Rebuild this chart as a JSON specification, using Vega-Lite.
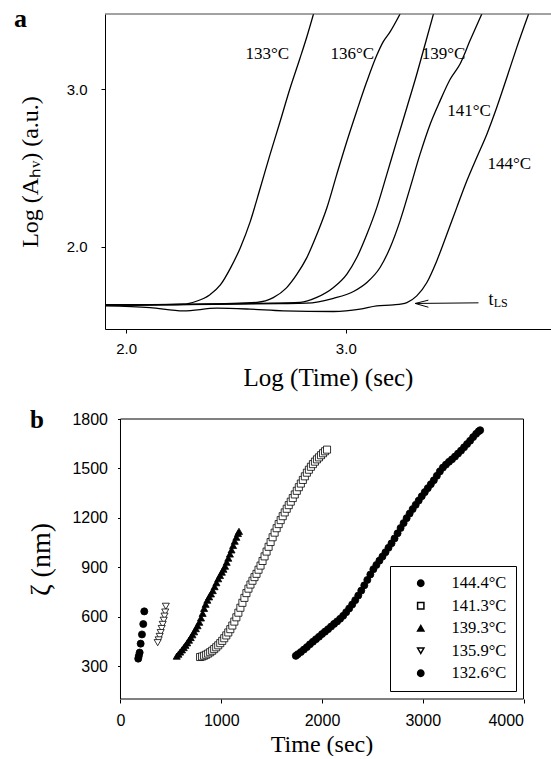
{
"$schema": "https://vega.github.io/schema/vega-lite/v6.json",
"background": "white",
"padding": {"left": 14, "top": 6, "right": 0, "bottom": 0},
"bounds": "flush",
"spacing": 90,
"resolve": {"legend": {"fill": "independent", "shape": "independent"}},
"config": {
  "view": {"stroke": null},
  "font": "Liberation Serif",
  "axis": {"grid": false, "domainColor": "black", "tickColor": "black", "labelColor": "black", "titleColor": "black", "labelFont": "Liberation Sans", "titleFont": "Liberation Serif", "titleFontWeight": "normal", "domainWidth": 1, "tickWidth": 1},
  "legend": {"labelFont": "Liberation Serif", "labelFontSize": 16.5, "labelColor": "black"}
},
"datasets": {
  "curves": [
    {"s":"133","lx":1.904,"ly":1.630},{"s":"133","lx":2.05,"ly":1.631},{"s":"133","lx":2.15,"ly":1.633},{"s":"133","lx":2.26,"ly":1.636},{"s":"133","lx":2.32,"ly":1.655},{"s":"133","lx":2.38,"ly":1.695},{"s":"133","lx":2.43,"ly":1.760},{"s":"133","lx":2.475,"ly":1.865},{"s":"133","lx":2.52,"ly":1.995},{"s":"133","lx":2.565,"ly":2.160},{"s":"133","lx":2.61,"ly":2.370},{"s":"133","lx":2.655,"ly":2.585},{"s":"133","lx":2.70,"ly":2.790},{"s":"133","lx":2.745,"ly":3.000},{"s":"133","lx":2.79,"ly":3.190},{"s":"133","lx":2.82,"ly":3.320},{"s":"133","lx":2.853,"ly":3.477},
    {"s":"136","lx":1.904,"ly":1.632},{"s":"136","lx":2.2,"ly":1.634},{"s":"136","lx":2.45,"ly":1.640},{"s":"136","lx":2.595,"ly":1.648},{"s":"136","lx":2.67,"ly":1.678},{"s":"136","lx":2.73,"ly":1.740},{"s":"136","lx":2.777,"ly":1.825},{"s":"136","lx":2.822,"ly":1.930},{"s":"136","lx":2.868,"ly":2.078},{"s":"136","lx":2.914,"ly":2.248},{"s":"136","lx":2.959,"ly":2.460},{"s":"136","lx":3.005,"ly":2.670},{"s":"136","lx":3.05,"ly":2.862},{"s":"136","lx":3.096,"ly":3.050},{"s":"136","lx":3.141,"ly":3.215},{"s":"136","lx":3.17,"ly":3.300},{"s":"136","lx":3.20,"ly":3.360},{"s":"136","lx":3.247,"ly":3.477},
    {"s":"139","lx":1.904,"ly":1.632},{"s":"139","lx":2.3,"ly":1.635},{"s":"139","lx":2.6,"ly":1.642},{"s":"139","lx":2.792,"ly":1.648},{"s":"139","lx":2.868,"ly":1.679},{"s":"139","lx":2.944,"ly":1.742},{"s":"139","lx":3.005,"ly":1.827},{"s":"139","lx":3.05,"ly":1.932},{"s":"139","lx":3.096,"ly":2.080},{"s":"139","lx":3.141,"ly":2.249},{"s":"139","lx":3.187,"ly":2.461},{"s":"139","lx":3.232,"ly":2.672},{"s":"139","lx":3.278,"ly":2.884},{"s":"139","lx":3.323,"ly":3.095},{"s":"139","lx":3.361,"ly":3.285},{"s":"139","lx":3.399,"ly":3.477},
    {"s":"141","lx":1.904,"ly":1.631},{"s":"141","lx":2.4,"ly":1.636},{"s":"141","lx":2.7,"ly":1.640},{"s":"141","lx":2.822,"ly":1.643},{"s":"141","lx":2.944,"ly":1.674},{"s":"141","lx":3.035,"ly":1.717},{"s":"141","lx":3.096,"ly":1.774},{"s":"141","lx":3.156,"ly":1.869},{"s":"141","lx":3.202,"ly":1.996},{"s":"141","lx":3.247,"ly":2.165},{"s":"141","lx":3.293,"ly":2.376},{"s":"141","lx":3.338,"ly":2.588},{"s":"141","lx":3.384,"ly":2.778},{"s":"141","lx":3.429,"ly":2.926},{"s":"141","lx":3.475,"ly":3.063},{"s":"141","lx":3.52,"ly":3.160},{"s":"141","lx":3.566,"ly":3.310},{"s":"141","lx":3.619,"ly":3.477},
    {"s":"144","lx":1.904,"ly":1.626},{"s":"144","lx":2.109,"ly":1.615},{"s":"144","lx":2.261,"ly":1.594},{"s":"144","lx":2.413,"ly":1.611},{"s":"144","lx":2.564,"ly":1.605},{"s":"144","lx":2.716,"ly":1.594},{"s":"144","lx":2.944,"ly":1.590},{"s":"144","lx":3.065,"ly":1.605},{"s":"144","lx":3.141,"ly":1.626},{"s":"144","lx":3.217,"ly":1.632},{"s":"144","lx":3.278,"ly":1.647},{"s":"144","lx":3.323,"ly":1.689},{"s":"144","lx":3.369,"ly":1.774},{"s":"144","lx":3.414,"ly":1.911},{"s":"144","lx":3.460,"ly":2.080},{"s":"144","lx":3.505,"ly":2.249},{"s":"144","lx":3.551,"ly":2.419},{"s":"144","lx":3.596,"ly":2.567},{"s":"144","lx":3.642,"ly":2.715},{"s":"144","lx":3.687,"ly":2.884},{"s":"144","lx":3.733,"ly":3.074},{"s":"144","lx":3.778,"ly":3.264},{"s":"144","lx":3.832,"ly":3.477}
  ],
  "labels": [
    {"label":"133°C","lx":2.643,"ly":3.222},{"label":"136°C","lx":3.030,"ly":3.222},{"label":"139°C","lx":3.445,"ly":3.222},{"label":"141°C","lx":3.561,"ly":2.863},{"label":"144°C","lx":3.744,"ly":2.524}
  ],
  "tmain": [{"label":"t","lx":3.650,"ly":1.632}],
  "tsub": [{"label":"LS","lx":3.673,"ly":1.619}],
  "panelA": [{"label":"a","lx":1.490,"ly":3.392}],
  "panelB": [{"label":"b","t":-898,"z":1745}],
  "arrow": [
    {"seg":"shaft","o":1,"lx":3.604,"ly":1.645},{"seg":"shaft","o":2,"lx":3.316,"ly":1.641},
    {"seg":"b1","o":1,"lx":3.376,"ly":1.662},{"seg":"b1","o":2,"lx":3.316,"ly":1.641},
    {"seg":"b2","o":1,"lx":3.376,"ly":1.617},{"seg":"b2","o":2,"lx":3.316,"ly":1.641}
  ],
  "zeta": [
    {"series":"132.6°C","t":236,"z":632},{"series":"132.6°C","t":226,"z":555},{"series":"132.6°C","t":213,"z":492},{"series":"132.6°C","t":200,"z":436},{"series":"132.6°C","t":190,"z":382},{"series":"132.6°C","t":182,"z":362},{"series":"132.6°C","t":176,"z":345},
    {"series":"135.9°C","t":450,"z":663},{"series":"135.9°C","t":444,"z":628},{"series":"135.9°C","t":437,"z":603},{"series":"135.9°C","t":429,"z":578},{"series":"135.9°C","t":419,"z":553},{"series":"135.9°C","t":409,"z":528},{"series":"135.9°C","t":399,"z":503},{"series":"135.9°C","t":389,"z":480},{"series":"135.9°C","t":379,"z":459},{"series":"135.9°C","t":369,"z":442},
    {"series":"139.3°C","t":558,"z":360},{"series":"139.3°C","t":575,"z":372},{"series":"139.3°C","t":592,"z":385},{"series":"139.3°C","t":610,"z":398},{"series":"139.3°C","t":628,"z":412},{"series":"139.3°C","t":645,"z":426},{"series":"139.3°C","t":662,"z":441},{"series":"139.3°C","t":680,"z":457},{"series":"139.3°C","t":697,"z":473},{"series":"139.3°C","t":714,"z":490},{"series":"139.3°C","t":731,"z":508},{"series":"139.3°C","t":748,"z":527},{"series":"139.3°C","t":765,"z":545},{"series":"139.3°C","t":782,"z":566},{"series":"139.3°C","t":799,"z":592},{"series":"139.3°C","t":815,"z":620},{"series":"139.3°C","t":830,"z":650},{"series":"139.3°C","t":845,"z":675},{"series":"139.3°C","t":862,"z":700},{"series":"139.3°C","t":880,"z":720},{"series":"139.3°C","t":898,"z":738},{"series":"139.3°C","t":916,"z":758},{"series":"139.3°C","t":934,"z":782},{"series":"139.3°C","t":952,"z":806},{"series":"139.3°C","t":970,"z":830},{"series":"139.3°C","t":988,"z":850},{"series":"139.3°C","t":1006,"z":870},{"series":"139.3°C","t":1022,"z":888},{"series":"139.3°C","t":1038,"z":906},{"series":"139.3°C","t":1054,"z":930},{"series":"139.3°C","t":1070,"z":955},{"series":"139.3°C","t":1086,"z":980},{"series":"139.3°C","t":1102,"z":1005},{"series":"139.3°C","t":1118,"z":1032},{"series":"139.3°C","t":1134,"z":1058},{"series":"139.3°C","t":1150,"z":1082},{"series":"139.3°C","t":1166,"z":1105},{"series":"139.3°C","t":1176,"z":1118},
    {"series":"141.3°C","t":790,"z":355},{"series":"141.3°C","t":810,"z":358},{"series":"141.3°C","t":830,"z":363},{"series":"141.3°C","t":850,"z":369},{"series":"141.3°C","t":870,"z":376},{"series":"141.3°C","t":890,"z":384},{"series":"141.3°C","t":910,"z":393},{"series":"141.3°C","t":930,"z":403},{"series":"141.3°C","t":950,"z":414},{"series":"141.3°C","t":970,"z":426},{"series":"141.3°C","t":990,"z":439},{"series":"141.3°C","t":1010,"z":453},{"series":"141.3°C","t":1030,"z":469},{"series":"141.3°C","t":1050,"z":486},{"series":"141.3°C","t":1070,"z":504},{"series":"141.3°C","t":1090,"z":524},{"series":"141.3°C","t":1110,"z":546},{"series":"141.3°C","t":1130,"z":570},{"series":"141.3°C","t":1150,"z":596},{"series":"141.3°C","t":1170,"z":624},{"series":"141.3°C","t":1190,"z":654},{"series":"141.3°C","t":1210,"z":684},{"series":"141.3°C","t":1230,"z":714},{"series":"141.3°C","t":1250,"z":743},{"series":"141.3°C","t":1270,"z":770},{"series":"141.3°C","t":1290,"z":795},{"series":"141.3°C","t":1310,"z":818},{"series":"141.3°C","t":1330,"z":840},{"series":"141.3°C","t":1350,"z":860},{"series":"141.3°C","t":1370,"z":885},{"series":"141.3°C","t":1390,"z":910},{"series":"141.3°C","t":1410,"z":938},{"series":"141.3°C","t":1430,"z":966},{"series":"141.3°C","t":1450,"z":995},{"series":"141.3°C","t":1470,"z":1024},{"series":"141.3°C","t":1490,"z":1053},{"series":"141.3°C","t":1510,"z":1082},{"series":"141.3°C","t":1530,"z":1110},{"series":"141.3°C","t":1550,"z":1137},{"series":"141.3°C","t":1570,"z":1162},{"series":"141.3°C","t":1590,"z":1186},{"series":"141.3°C","t":1610,"z":1210},{"series":"141.3°C","t":1630,"z":1233},{"series":"141.3°C","t":1650,"z":1255},{"series":"141.3°C","t":1670,"z":1277},{"series":"141.3°C","t":1690,"z":1298},{"series":"141.3°C","t":1710,"z":1320},{"series":"141.3°C","t":1730,"z":1342},{"series":"141.3°C","t":1750,"z":1364},{"series":"141.3°C","t":1770,"z":1386},{"series":"141.3°C","t":1790,"z":1408},{"series":"141.3°C","t":1810,"z":1430},{"series":"141.3°C","t":1830,"z":1452},{"series":"141.3°C","t":1850,"z":1474},{"series":"141.3°C","t":1870,"z":1492},{"series":"141.3°C","t":1890,"z":1510},{"series":"141.3°C","t":1910,"z":1526},{"series":"141.3°C","t":1930,"z":1541},{"series":"141.3°C","t":1950,"z":1555},{"series":"141.3°C","t":1970,"z":1567},{"series":"141.3°C","t":1990,"z":1580},{"series":"141.3°C","t":2010,"z":1592},{"series":"141.3°C","t":2030,"z":1604},{"series":"141.3°C","t":2050,"z":1614},
    {"series":"144.4°C","t":1740,"z":362},{"series":"144.4°C","t":1760,"z":372},{"series":"144.4°C","t":1790,"z":385},{"series":"144.4°C","t":1820,"z":400},{"series":"144.4°C","t":1850,"z":415},{"series":"144.4°C","t":1880,"z":432},{"series":"144.4°C","t":1910,"z":448},{"series":"144.4°C","t":1940,"z":463},{"series":"144.4°C","t":1970,"z":478},{"series":"144.4°C","t":2000,"z":494},{"series":"144.4°C","t":2030,"z":509},{"series":"144.4°C","t":2060,"z":524},{"series":"144.4°C","t":2090,"z":540},{"series":"144.4°C","t":2120,"z":556},{"series":"144.4°C","t":2150,"z":571},{"series":"144.4°C","t":2180,"z":587},{"series":"144.4°C","t":2210,"z":605},{"series":"144.4°C","t":2240,"z":627},{"series":"144.4°C","t":2270,"z":650},{"series":"144.4°C","t":2300,"z":674},{"series":"144.4°C","t":2330,"z":700},{"series":"144.4°C","t":2360,"z":728},{"series":"144.4°C","t":2390,"z":758},{"series":"144.4°C","t":2420,"z":790},{"series":"144.4°C","t":2450,"z":823},{"series":"144.4°C","t":2480,"z":856},{"series":"144.4°C","t":2510,"z":888},{"series":"144.4°C","t":2540,"z":914},{"series":"144.4°C","t":2570,"z":940},{"series":"144.4°C","t":2600,"z":965},{"series":"144.4°C","t":2630,"z":991},{"series":"144.4°C","t":2660,"z":1018},{"series":"144.4°C","t":2690,"z":1045},{"series":"144.4°C","t":2720,"z":1075},{"series":"144.4°C","t":2750,"z":1106},{"series":"144.4°C","t":2780,"z":1138},{"series":"144.4°C","t":2810,"z":1168},{"series":"144.4°C","t":2840,"z":1198},{"series":"144.4°C","t":2870,"z":1226},{"series":"144.4°C","t":2900,"z":1253},{"series":"144.4°C","t":2930,"z":1279},{"series":"144.4°C","t":2960,"z":1305},{"series":"144.4°C","t":2990,"z":1331},{"series":"144.4°C","t":3020,"z":1356},{"series":"144.4°C","t":3050,"z":1380},{"series":"144.4°C","t":3080,"z":1404},{"series":"144.4°C","t":3110,"z":1428},{"series":"144.4°C","t":3140,"z":1455},{"series":"144.4°C","t":3170,"z":1482},{"series":"144.4°C","t":3200,"z":1505},{"series":"144.4°C","t":3230,"z":1523},{"series":"144.4°C","t":3260,"z":1540},{"series":"144.4°C","t":3290,"z":1555},{"series":"144.4°C","t":3320,"z":1572},{"series":"144.4°C","t":3350,"z":1590},{"series":"144.4°C","t":3380,"z":1608},{"series":"144.4°C","t":3410,"z":1628},{"series":"144.4°C","t":3440,"z":1648},{"series":"144.4°C","t":3470,"z":1668},{"series":"144.4°C","t":3500,"z":1690},{"series":"144.4°C","t":3530,"z":1710},{"series":"144.4°C","t":3555,"z":1725},{"series":"144.4°C","t":3570,"z":1732}
  ]
},
"vconcat": [
  {
    "width": 446, "height": 315,
    "layer": [
      {
        "data": {"name": "curves"},
        "mark": {"type": "line", "color": "black", "strokeWidth": 1.3, "clip": true, "interpolate": "monotone"},
        "encoding": {
          "x": {"field": "lx", "type": "quantitative", "scale": {"domain": [1.904, 3.934], "nice": false, "zero": false},
                "axis": {"title": "Log (Time) (sec)", "values": [2, 3], "format": ".1f", "labelFontSize": 15, "tickSize": 4, "labelPadding": 8, "titleFontSize": 25, "titleFontWeight": "normal", "titlePadding": 9}},
          "y": {"field": "ly", "type": "quantitative", "scale": {"domain": [1.479, 3.477], "nice": false, "zero": false},
                "axis": {"title": "Log (Aₕᵥ) (a.u.)", "values": [2, 3], "format": ".1f", "labelFontSize": 15, "tickSize": 4, "labelPadding": 14, "titleFontSize": 24, "titleFontWeight": "normal", "titlePadding": 24}},
          "detail": {"field": "s"}
        }
      },
      {
        "data": {"values": [{}]},
        "mark": {"type": "rule", "color": "#444", "strokeWidth": 1},
        "encoding": {"y": {"datum": 3.477}}
      },
      {
        "data": {"name": "labels"},
        "mark": {"type": "text", "font": "Liberation Serif", "fontSize": 17, "color": "black", "align": "center", "baseline": "middle"},
        "encoding": {"x": {"field": "lx", "type": "quantitative"}, "y": {"field": "ly", "type": "quantitative"}, "text": {"field": "label"}}
      },
      {
        "data": {"name": "arrow"},
        "mark": {"type": "line", "color": "black", "strokeWidth": 1},
        "encoding": {"x": {"field": "lx", "type": "quantitative"}, "y": {"field": "ly", "type": "quantitative"}, "detail": {"field": "seg"}, "order": {"field": "o"}}
      },
      {
        "data": {"name": "tmain"},
        "mark": {"type": "text", "font": "Liberation Serif", "fontSize": 18, "color": "black", "align": "left", "baseline": "alphabetic"},
        "encoding": {"x": {"field": "lx", "type": "quantitative"}, "y": {"field": "ly", "type": "quantitative"}, "text": {"field": "label"}}
      },
      {
        "data": {"name": "tsub"},
        "mark": {"type": "text", "font": "Liberation Serif", "fontSize": 12, "color": "black", "align": "left", "baseline": "alphabetic"},
        "encoding": {"x": {"field": "lx", "type": "quantitative"}, "y": {"field": "ly", "type": "quantitative"}, "text": {"field": "label"}}
      },
      {
        "data": {"name": "panelA"},
        "mark": {"type": "text", "font": "Liberation Serif", "fontSize": 26, "fontWeight": "bold", "color": "black", "align": "left", "baseline": "alphabetic"},
        "encoding": {"x": {"field": "lx", "type": "quantitative"}, "y": {"field": "ly", "type": "quantitative"}, "text": {"field": "label"}}
      }
    ]
  },
  {
    "width": 418.5, "height": 280,
    "layer": [
      {
        "data": {"name": "zeta"},
        "mark": {"type": "point", "filled": true, "stroke": "black", "strokeWidth": 0.8, "size": 50, "opacity": 1},
        "encoding": {
          "x": {"field": "t", "type": "quantitative", "scale": {"domain": [-153.8, 4000], "nice": false, "zero": false},
                "axis": {"title": "Time (sec)", "values": [0, 1000, 2000, 3000, 4000], "format": "d", "domain": false, "labelFontSize": 16, "tickSize": 4, "labelPadding": 9, "titleFontSize": 24, "titleFontWeight": "normal", "titlePadding": 4, "titleX": 216.5}},
          "y": {"field": "z", "type": "quantitative", "scale": {"domain": [100, 1800], "nice": false, "zero": false},
                "axis": {"title": "ζ (nm)", "values": [300, 600, 900, 1200, 1500, 1800], "format": "d", "domain": false, "offset": -15.5, "labelFontSize": 16, "tickSize": 3, "labelPadding": 10, "titleFontSize": 28, "titleFontWeight": "normal", "titlePadding": 16}},
          "fill": {"field": "series", "type": "nominal",
                   "scale": {"domain": ["144.4°C", "141.3°C", "139.3°C", "135.9°C", "132.6°C"], "range": ["black", "white", "black", "white", "black"]},
                   "legend": {"title": null, "orient": "bottom-right", "offset": 8, "strokeColor": "black", "fillColor": "white", "padding": 9, "labelFont": "Liberation Serif", "labelFontSize": 16.5, "labelColor": "black", "symbolSize": 40, "symbolOffset": 13.5, "labelOffset": 22.5, "rowPadding": 5.5,
                              "encode": {"symbols": {"update": {"stroke": {"value": "black"}, "strokeWidth": {"value": 0.8}}}, "labels": {"update": {"font": {"value": "Liberation Serif"}}}}}},
          "shape": {"field": "series", "type": "nominal",
                   "scale": {"domain": ["144.4°C", "141.3°C", "139.3°C", "135.9°C", "132.6°C"], "range": ["circle", "square", "triangle-up", "triangle-down", "circle"]},
                   "legend": {"title": null, "orient": "bottom-right", "offset": 8, "strokeColor": "black", "fillColor": "white", "padding": 9, "labelFont": "Liberation Serif", "labelFontSize": 16.5, "labelColor": "black", "symbolSize": 40, "symbolOffset": 13.5, "labelOffset": 22.5, "rowPadding": 5.5,
                              "encode": {"symbols": {"update": {"stroke": {"value": "black"}, "strokeWidth": {"value": 0.8}}}, "labels": {"update": {"font": {"value": "Liberation Serif"}}}}}}
        }
      },
      {
        "data": {"values": [{}]},
        "mark": {"type": "rule", "color": "black", "strokeWidth": 1},
        "encoding": {"x": {"datum": 0}, "x2": {"datum": 4000}, "y": {"datum": 1800}}
      },
      {
        "data": {"values": [{}]},
        "mark": {"type": "rule", "color": "black", "strokeWidth": 1},
        "encoding": {"x": {"datum": 0}, "x2": {"datum": 4000}, "y": {"datum": 100}}
      },
      {
        "data": {"values": [{}]},
        "mark": {"type": "rule", "color": "black", "strokeWidth": 1},
        "encoding": {"x": {"datum": 0}, "y": {"datum": 100}, "y2": {"datum": 1800}}
      },
      {
        "data": {"values": [{}]},
        "mark": {"type": "rule", "color": "black", "strokeWidth": 1},
        "encoding": {"x": {"datum": 4000}, "y": {"datum": 100}, "y2": {"datum": 1800}}
      },
      {
        "data": {"name": "panelB"},
        "mark": {"type": "text", "font": "Liberation Serif", "fontSize": 25, "fontWeight": "bold", "color": "black", "align": "left", "baseline": "alphabetic"},
        "encoding": {"x": {"field": "t", "type": "quantitative"}, "y": {"field": "z", "type": "quantitative"}, "text": {"field": "label"}}
      }
    ]
  }
]
}
